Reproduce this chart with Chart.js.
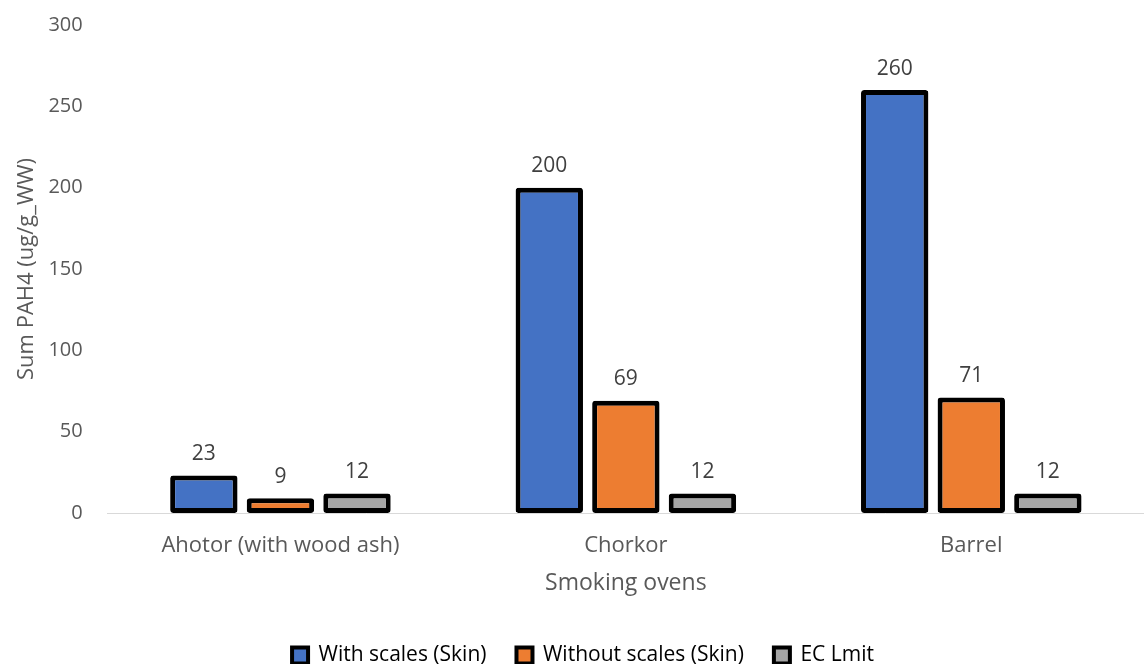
<!DOCTYPE html>
<html>
<head>
<meta charset="utf-8">
<script src="https://cdn.jsdelivr.net/npm/chart.js@4/dist/chart.umd.min.js"></script>
<style>
  html, body { margin: 0; padding: 0; background: #fff; }
  #wrap { width: 1144px; height: 664px; }
</style>
</head>
<body>
<div id="wrap"><canvas id="canvas1"></canvas></div>
<script>
const ovens = ['Ahotor (with wood ash)', 'Chorkor', 'Barrel']
const withScales = [23, 200, 260]
const withoutScales = [9, 69, 71]
const ecLimit = [12, 12, 12]
const yTicks = [0, 50, 100, 150, 200, 250, 300]

const ctx = document.getElementById('canvas1').getContext('2d')
Chart.defaults.font.family = '"Open Sans", "Noto Sans", sans-serif'
Chart.defaults.color = '#595959'

// values above each bar
const barLabels = {
  id: 'barLabels',
  afterDatasetsDraw(chart) {
    const c = chart.ctx
    c.save()
    c.font = '21px "Open Sans", "Noto Sans", sans-serif'
    c.fillStyle = '#404040'
    c.textAlign = 'center'
    c.textBaseline = 'bottom'
    chart.data.datasets.forEach((ds, i) => {
      chart.getDatasetMeta(i).data.forEach((bar, j) => {
        c.fillText(ds.data[j], bar.x, bar.y - 11)
      })
    })
    c.restore()
  }
}

const bar = (label, data, color) => ({
  label,
  data,
  backgroundColor: color,
  borderColor: '#000',
  borderWidth: 5,
  borderRadius: 3,
  borderSkipped: false,
  categoryPercentage: 0.665,
  barPercentage: 0.88
})

new Chart(ctx, {
  type: 'bar',
  data: {
    labels: ovens,
    datasets: [
      bar('With scales (Skin)', withScales, '#4472C4'),
      bar('Without scales (Skin)', withoutScales, '#ED7D31'),
      bar('EC Lmit', ecLimit, '#A5A5A5')
    ]
  },
  options: {
    responsive: true,
    maintainAspectRatio: false,
    animation: false,
    layout: { padding: { top: 25, right: -8, left: 14, bottom: -12 } },
    plugins: {
      tooltip: { enabled: false },
      legend: {
        position: 'bottom',
        labels: {
          boxWidth: 16,
          boxHeight: 16,
          padding: 30,
          color: '#404040',
          font: { size: 21 },
          generateLabels(chart) {
            return chart.data.datasets.map((ds, i) => ({
              text: ds.label,
              fillStyle: ds.backgroundColor,
              strokeStyle: '#000',
              lineWidth: 4,
              datasetIndex: i
            }))
          }
        }
      }
    },
    scales: {
      x: {
        grid: { display: false, drawTicks: false },
        border: { color: '#D9D9D9', width: 1 },
        ticks: { font: { size: 22 }, padding: 20 },
        title: { display: true, text: 'Smoking ovens', font: { size: 23 }, padding: { top: -10, bottom: 18 } },
        afterFit: s => { s.paddingLeft = 0; s.paddingRight = 0 }
      },
      y: {
        min: 0,
        max: 300,
        afterBuildTicks: axis => { axis.ticks = yTicks.map(v => ({ value: v })) },
        grid: { display: false, drawTicks: false },
        border: { display: false },
        ticks: { font: { size: 20 }, padding: 25 },
        title: { display: true, text: 'Sum PAH4 (ug/g_WW)', font: { size: 22 }, padding: { top: 0, bottom: -17 } },
        afterFit: s => { s.paddingTop = 0; s.paddingBottom = 0 }
      }
    }
  },
  plugins: [barLabels]
})
</script>
</body>
</html>
